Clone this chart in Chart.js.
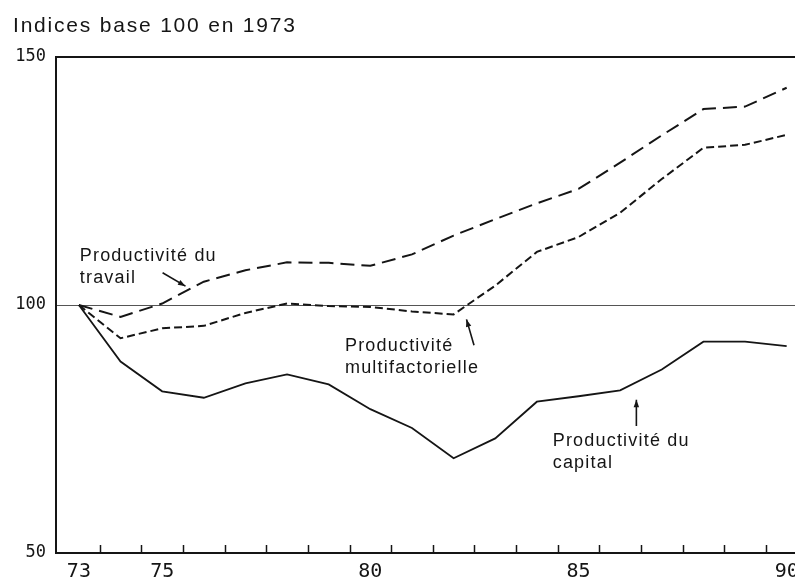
<!DOCTYPE html>
<html>
<head>
<meta charset="utf-8">
<script src="https://cdn.jsdelivr.net/npm/chart.js@4"></script>
<style>
html, body { margin: 0; padding: 0; background: #fff; }
</style>
</head>
<body>
<canvas id="myChart" width="795" height="581"></canvas>
<script>
// Indices base 100 en 1973
var years = [73, 74, 75, 76, 77, 78, 79, 80, 81, 82, 83, 84, 85, 86, 87, 88, 89, 90];
var travail = [100, 97.6, 100.3, 104.7, 107.0, 108.6, 108.5, 107.9, 110.2, 114.0, 117.3, 120.5, 123.4, 128.7, 134.2, 139.5, 140.0, 143.8];
var multifactorielle = [100, 93.3, 95.3, 95.8, 98.4, 100.3, 99.8, 99.6, 98.7, 98.1, 103.9, 110.7, 113.7, 118.6, 125.4, 131.7, 132.3, 134.3];
var capital = [100, 88.6, 82.6, 81.3, 84.2, 86.0, 84.0, 79.0, 75.2, 69.1, 73.1, 80.5, 81.6, 82.8, 87.0, 92.6, 92.6, 91.7];
var xLabels = [73, 75, 80, 85, 90];
var yLabels = [50, 100, 150];

var ink = '#151515';
var textFont = '"Liberation Sans", Arial, sans-serif';

function points(values) {
    return years.map(function (y, i) { return { x: y, y: values[i] }; });
}

// labels and arrows, placed in data units (year, index)
var notes = [
    { lines: ['Productivité du', 'travail'], x: 73.02, y: 108.9, arrow: [75.01, 106.5, 75.56, 103.8] },
    { lines: ['Productivité', 'multifactorielle'], x: 79.39, y: 90.7, arrow: [82.49, 91.9, 82.31, 97.1] },
    { lines: ['Productivité du', 'capital'], x: 84.38, y: 71.5, arrow: [86.39, 75.6, 86.39, 80.9] }
];

var annotations = {
    id: 'annotations',
    afterDraw: function (chart) {
        var c = chart.ctx;
        var xs = chart.scales.x, ys = chart.scales.y;
        var area = chart.chartArea;
        c.save();

        // small inner tick marks between the years
        c.strokeStyle = ink;
        c.lineWidth = 1.5;
        years.slice(0, -1).forEach(function (y) {
            var px = Math.round(xs.getPixelForValue(y + 0.5)) + 0.5;
            c.beginPath();
            c.moveTo(px, area.bottom);
            c.lineTo(px, area.bottom - 8);
            c.stroke();
        });

        // title
        c.fillStyle = ink;
        c.textBaseline = 'alphabetic';
        c.textAlign = 'left';
        c.font = '21px ' + textFont;
        c.letterSpacing = '1.8px';
        c.fillText('Indices base 100 en 1973', 13, 32);

        // notes
        c.font = '18px ' + textFont;
        c.letterSpacing = '1.2px';
        notes.forEach(function (n) {
            var px = xs.getPixelForValue(n.x);
            var py = ys.getPixelForValue(n.y);
            n.lines.forEach(function (t, i) { c.fillText(t, px, py + i * 22); });

            var x1 = xs.getPixelForValue(n.arrow[0]), y1 = ys.getPixelForValue(n.arrow[1]);
            var x2 = xs.getPixelForValue(n.arrow[2]), y2 = ys.getPixelForValue(n.arrow[3]);
            var a = Math.atan2(y2 - y1, x2 - x1);
            c.lineWidth = 1.6;
            c.beginPath();
            c.moveTo(x1, y1);
            c.lineTo(x2, y2);
            c.stroke();
            c.beginPath();
            c.moveTo(x2, y2);
            c.lineTo(x2 - 8 * Math.cos(a - 0.35), y2 - 8 * Math.sin(a - 0.35));
            c.lineTo(x2 - 8 * Math.cos(a + 0.35), y2 - 8 * Math.sin(a + 0.35));
            c.closePath();
            c.fill();
        });
        c.restore();
    }
};

var ctx = document.getElementById('myChart').getContext('2d');
var myChart = new Chart(ctx, {
    type: 'line',
    data: {
        datasets: [
            {
                label: 'Productivité du travail',
                data: points(travail),
                borderColor: ink,
                borderWidth: 2,
                borderDash: [14, 7],
                pointRadius: 0,
                tension: 0
            },
            {
                label: 'Productivité multifactorielle',
                data: points(multifactorielle),
                borderColor: ink,
                borderWidth: 2,
                borderDash: [8, 4],
                pointRadius: 0,
                tension: 0
            },
            {
                label: 'Productivité du capital',
                data: points(capital),
                borderColor: ink,
                borderWidth: 1.8,
                pointRadius: 0,
                tension: 0
            }
        ]
    },
    options: {
        responsive: false,
        animation: false,
        layout: {
            padding: { top: 57, left: 0, right: 0, bottom: 0 }
        },
        plugins: {
            legend: { display: false },
            tooltip: { enabled: false }
        },
        scales: {
            x: {
                type: 'linear',
                min: 72.45,
                max: 90.2,
                afterBuildTicks: function (s) { s.ticks = xLabels.map(function (v) { return { value: v }; }); },
                afterFit: function (s) { s.height = 28; s.paddingLeft = 0; s.paddingRight = 0; },
                grid: { display: false, drawTicks: false },
                border: { display: true, color: ink, width: 2 },
                ticks: {
                    autoSkip: false,
                    maxRotation: 0,
                    padding: 7,
                    color: ink,
                    font: { family: '"DejaVu Sans Mono", monospace', size: 20 },
                    callback: function (v) { return String(v); }
                }
            },
            y: {
                min: 50,
                max: 150,
                afterBuildTicks: function (s) { s.ticks = yLabels.map(function (v) { return { value: v }; }); },
                afterFit: function (s) { s.width = 56; s.paddingTop = 0; s.paddingBottom = 0; },
                grid: {
                    drawTicks: false,
                    color: function (c) {
                        if (c.tick.value === 150) return ink;
                        if (c.tick.value === 100) return '#555';
                        return 'rgba(0,0,0,0)';
                    },
                    lineWidth: function (c) { return c.tick.value === 150 ? 2 : 1; }
                },
                border: { display: true, color: ink, width: 2 },
                ticks: {
                    padding: 10,
                    color: ink,
                    font: { family: '"DejaVu Sans Mono", monospace', size: 17 }
                }
            }
        }
    },
    plugins: [annotations]
});
</script>
</body>
</html>
